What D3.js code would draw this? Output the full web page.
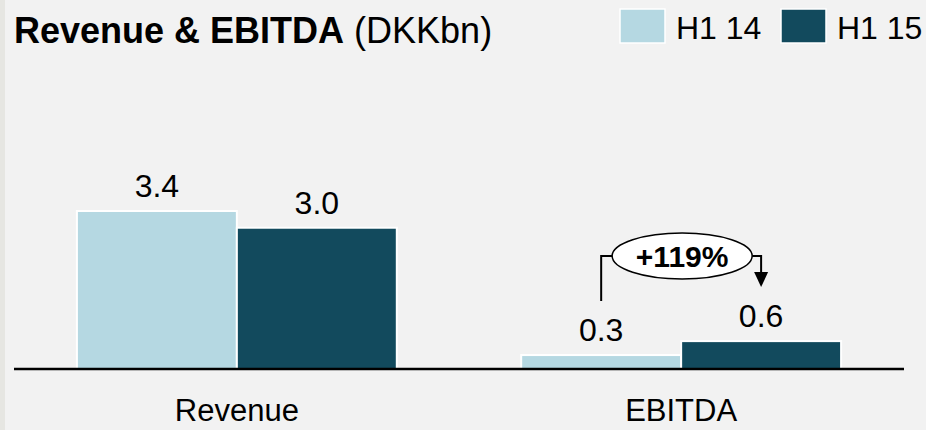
<!DOCTYPE html>
<meta charset="utf-8">
<style>
body { margin: 0; background: #f2f2f2; }
text { font-family: "Liberation Sans", Arial, sans-serif; fill: #000; }
</style>
<body>
<script src="https://d3js.org/d3.v7.min.js"></script>
<script>

var categories = ["Revenue", "EBITDA"];
var seriesNames = ["H1 14", "H1 15"];
var h1_14 = [3.4, 0.3];
var h1_15 = [3.04, 0.6];
var valueLabels = [["3.4", "3.0"], ["0.3", "0.6"]];
var growthLabel = "+119%";
var colors = ["#b5d8e2", "#124a5d"];

var width = 926, height = 430;

var svg = d3.select("body").append("svg")
    .attr("width", width)
    .attr("height", height);

svg.append("rect").attr("width", width).attr("height", height).attr("fill", "#f2f2f2");
svg.append("rect").attr("width", 5).attr("height", height).attr("fill", "#e6e6e2");

var x0 = d3.scaleBand().domain(categories).range([14, 904])
    .paddingInner(0.28).paddingOuter(0.1416);
var x1 = d3.scaleBand().domain(seriesNames).range([0, x0.bandwidth()]);
var y = d3.scaleLinear().domain([0, 3.4]).range([369, 211]);

var data = categories.map(function(c, i) {
  return { cat: c, vals: [
    { s: seriesNames[0], v: h1_14[i], label: valueLabels[i][0] },
    { s: seriesNames[1], v: h1_15[i], label: valueLabels[i][1] }
  ]};
});

var groups = svg.selectAll(".grp")
  .data(data)
  .enter().append("g")
    .attr("class", "grp")
    .attr("transform", function(d) { return "translate(" + x0(d.cat) + ",0)"; });

groups.selectAll("rect")
  .data(function(d) { return d.vals; })
  .enter().append("rect")
    .attr("x", function(d) { return x1(d.s); })
    .attr("y", function(d) { return y(d.v); })
    .attr("width", x1.bandwidth())
    .attr("height", function(d) { return y(0) - y(d.v); })
    .attr("fill", function(d, i) { return colors[i]; })
    .attr("stroke", "#fff")
    .attr("stroke-width", 2);

groups.selectAll(".val")
  .data(function(d) { return d.vals; })
  .enter().append("text")
    .attr("class", "val")
    .attr("x", function(d) { return x1(d.s) + x1.bandwidth() / 2; })
    .attr("y", function(d) { return y(d.v) - 14; })
    .attr("text-anchor", "middle")
    .style("font-size", "32px")
    .text(function(d) { return d.label; });

// baseline
svg.append("line")
    .attr("x1", 14).attr("x2", 904)
    .attr("y1", y(0)).attr("y2", y(0))
    .attr("stroke", "#000").attr("stroke-width", 2.5);

// category labels
svg.selectAll(".cat")
  .data(categories)
  .enter().append("text")
    .attr("class", "cat")
    .attr("x", function(d) { return x0(d) + x0.bandwidth() / 2; })
    .attr("y", 421)
    .attr("text-anchor", "middle")
    .style("font-size", "31px")
    .text(function(d) { return d; });

// title
var title = svg.append("text").attr("x", 14).attr("y", 43).style("font-size", "36px");
title.append("tspan").style("font-weight", "bold").text("Revenue & EBITDA");
title.append("tspan").text(" (DKKbn)");

// legend
var legX = [620, 781];
seriesNames.forEach(function(s, i) {
  svg.append("rect")
      .attr("x", legX[i]).attr("y", 9)
      .attr("width", 45).attr("height", 34)
      .attr("fill", colors[i])
      .attr("stroke", "#fff").attr("stroke-width", 1.5);
  svg.append("text")
      .attr("x", legX[i] + 56).attr("y", 39)
      .style("font-size", "32px")
      .text(s);
});

// growth annotation on EBITDA
var ex = x0("EBITDA");
var ax = ex + x1("H1 14") + x1.bandwidth() / 2;
var bx = ex + x1("H1 15") + x1.bandwidth() / 2;
var ly = 256, cx = (ax + bx) / 2 + 1, rx = 70, ry = 23;

svg.append("path")
    .attr("d", "M" + ax + "," + (y(0.3) - 54) + "V" + ly + "H" + (cx - rx))
    .attr("fill", "none").attr("stroke", "#000").attr("stroke-width", 2);
svg.append("path")
    .attr("d", "M" + (cx + rx) + "," + ly + "H" + bx + "V" + (y(0.6) - 68))
    .attr("fill", "none").attr("stroke", "#000").attr("stroke-width", 2);
svg.append("path")
    .attr("d", "M" + (bx - 7) + "," + (y(0.6) - 69) + "L" + (bx + 7) + "," + (y(0.6) - 69) +
          "L" + bx + "," + (y(0.6) - 54) + "Z")
    .attr("fill", "#000");
svg.append("ellipse")
    .attr("cx", cx).attr("cy", ly).attr("rx", rx).attr("ry", ry)
    .attr("fill", "#fff").attr("stroke", "#000").attr("stroke-width", 1.5);
svg.append("text")
    .attr("x", cx).attr("y", ly + 11)
    .attr("text-anchor", "middle")
    .style("font-size", "30px").style("font-weight", "bold")
    .text(growthLabel);

</script>
</body>
